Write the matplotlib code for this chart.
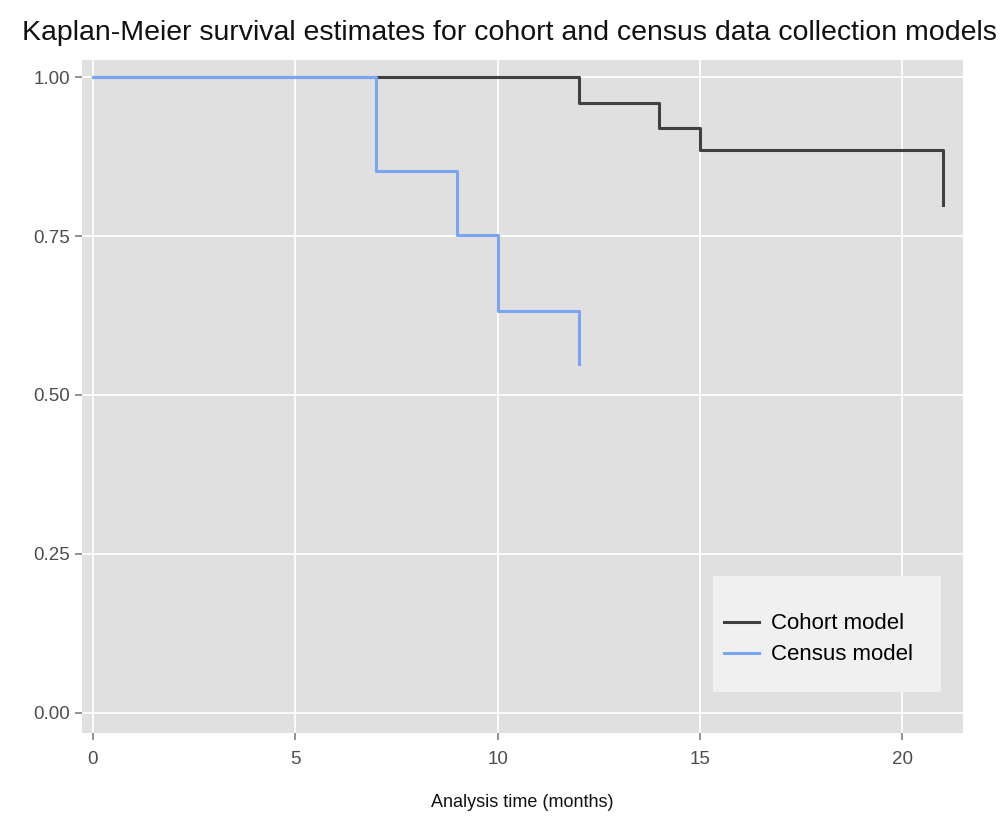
import matplotlib
matplotlib.use("Agg")
import matplotlib.pyplot as plt
from matplotlib.patches import Rectangle

# Kaplan-Meier step estimates
cohort_time = [0, 12, 14, 15, 21]
cohort_surv = [1.0, 0.960, 0.920, 0.885, 0.799]

census_time = [0, 7, 9, 10, 12]
census_surv = [1.0, 0.853, 0.752, 0.632, 0.549]

x_ticks = [0, 5, 10, 15, 20]
y_ticks = [0.0, 0.25, 0.5, 0.75, 1.0]
y_labels = ['0.00', '0.25', '0.50', '0.75', '1.00']

plt.rcParams['font.family'] = ['Liberation Sans', 'DejaVu Sans']

fig = plt.figure(figsize=(10.03, 8.16), dpi=100)
ax = fig.add_axes([0.0818, 0.1017, 0.8782, 0.8248])
ax.set_facecolor('#e0e0e0')

ax.plot(cohort_time, cohort_surv, drawstyle='steps-post', color='#404040',
        lw=2.2, label='Cohort model')
ax.plot(census_time, census_surv, drawstyle='steps-post', color='#78a6f0',
        lw=2.2, label='Census model')

ax.set_xlim(-0.27, 21.5)
ax.set_ylim(-0.032, 1.027)
ax.set_xticks(x_ticks)
ax.set_yticks(y_ticks)
ax.set_yticklabels(y_labels)
ax.grid(True, color='white', lw=1.3)
ax.set_axisbelow(True)
for s in ax.spines.values():
    s.set_visible(False)
ax.tick_params(colors='#7f7f7f', labelcolor='#4d4d4d', labelsize=13.5,
               length=5, width=1.2)
ax.tick_params(axis='x', pad=8)

ax.set_xlabel('Analysis time (months)', fontsize=13, color='#111111', labelpad=19)
fig.suptitle('Kaplan-Meier survival estimates for cohort and census data collection models',
             fontsize=20.5, color='#111111', x=0.508, y=0.975)

# legend background box
ax.add_patch(Rectangle((0.716, 0.061), 0.259, 0.172, transform=ax.transAxes,
                       facecolor='#f0f0f0', edgecolor='none', zorder=3))
leg = ax.legend(loc='center left', bbox_to_anchor=(0.7163, 0.139), fontsize=16,
                frameon=False, borderpad=0, handlelength=1.55, handletextpad=0.55,
                labelspacing=0.45)
leg.set_zorder(4)

fig.savefig('out.png', dpi=100)
